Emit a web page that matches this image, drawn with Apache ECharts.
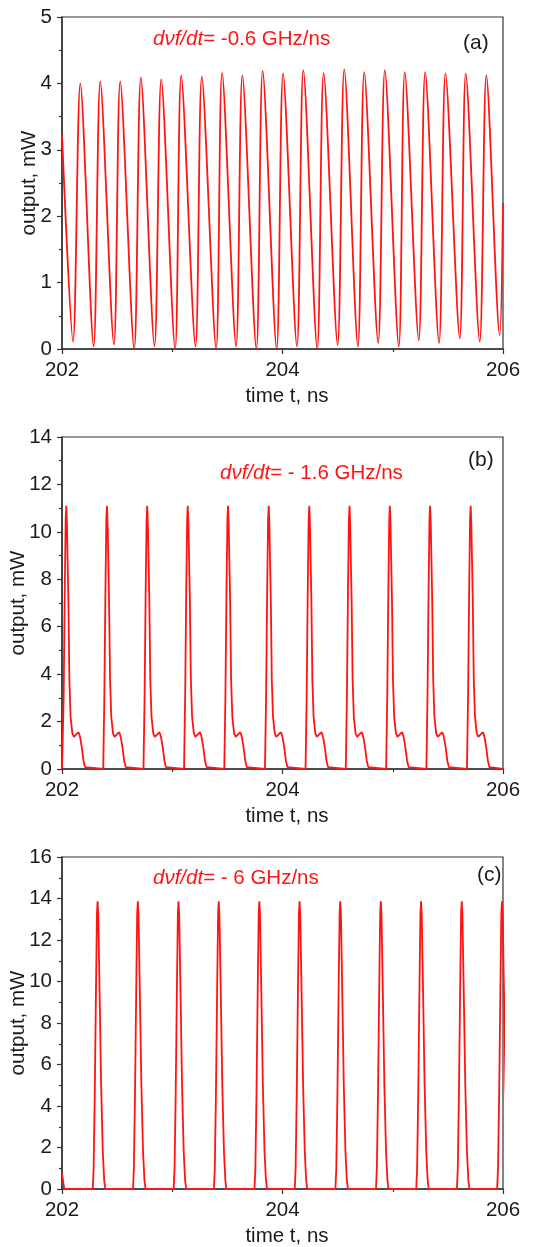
<!DOCTYPE html>
<html>
<head>
<meta charset="utf-8">
<script src="https://cdn.jsdelivr.net/npm/echarts@6/dist/echarts.min.js"></script>
<style>
html,body{margin:0;padding:0;background:#fff;}
#c{width:534px;height:1247px;}
</style>
</head>
<body>
<div id="c"></div>
<script>
// ---------- Panel (a): dνf/dt = -0.6 GHz/ns ----------
const aStartT = [202.0];
const aStartV = [3.23];
const aPeakT = [202.166, 202.347, 202.528, 202.715, 202.900, 203.081, 203.268, 203.452, 203.636, 203.820, 204.005, 204.189, 204.373, 204.560, 204.741, 204.928, 205.109, 205.294, 205.478, 205.662, 205.849];
const aPeakV = [4.00, 4.03, 4.03, 4.09, 4.06, 4.12, 4.10, 4.16, 4.12, 4.19, 4.15, 4.20, 4.16, 4.21, 4.17, 4.20, 4.17, 4.17, 4.15, 4.15, 4.12];
const aTroughT = [202.100, 202.287, 202.471, 202.655, 202.839, 203.026, 203.211, 203.398, 203.579, 203.763, 203.947, 204.131, 204.315, 204.500, 204.684, 204.868, 205.055, 205.236, 205.420, 205.608, 205.789, 205.970];
const aTroughV = [0.11, 0.04, 0.07, 0.00, 0.04, 0.00, 0.04, 0.00, 0.04, 0.00, 0.00, 0.04, 0.00, 0.06, 0.04, 0.09, 0.04, 0.13, 0.09, 0.16, 0.11, 0.21];
const aEndT = [206.0];
const aEndV = [2.2];

// ---------- Panel (b): dνf/dt = -1.6 GHz/ns ----------
const bPeakT = [202.039, 202.408, 202.773, 203.141, 203.506, 203.875, 204.243, 204.608, 204.974, 205.339, 205.707];
// pulse shape read from one pulse: time offset from peak (ns) and output (mW)
const bPulseDt = [-0.034, -0.024, -0.014, -0.006, 0, 0.006, 0.012, 0.019, 0.028, 0.039, 0.055, 0.069, 0.081, 0.092, 0.102, 0.111, 0.119, 0.127, 0.141, 0.156, 0.170, 0.182];
const bPulseV  = [0, 3.0, 7.5, 10.5, 11.1, 10.3, 8.8, 7.1, 3.75, 2.2, 1.5, 1.35, 1.38, 1.47, 1.54, 1.55, 1.45, 1.3, 0.9, 0.35, 0.08, 0];

// ---------- Panel (c): dνf/dt = -6 GHz/ns ----------
const cStartT = [202.0, 202.02];
const cStartV = [0.75, 0];
const cPeakT = [202.323, 202.688, 203.057, 203.422, 203.790, 204.155, 204.524, 204.892, 205.257, 205.626, 205.991];
const cPulseDt = [-0.044, -0.036, -0.026, -0.015, -0.006, 0, 0.006, 0.018, 0.032, 0.047, 0.060, 0.070];
const cPulseV  = [0, 1.0, 4.5, 9.5, 13.3, 13.87, 13.2, 9.5, 5.0, 1.8, 0.4, 0];

// tick settings
const xMin = 202, xMax = 206;
const yMax = [5, 14, 16];
const yStep = [1, 2, 2];
const labels = ['(a)', '(b)', '(c)'];
const rates = ['= -0.6 GHz/ns', '= - 1.6 GHz/ns', '= - 6 GHz/ns'];

// build series data
function zip(t, v) { return t.map((x, i) => [x, v[i]]); }
const dataA = zip(aStartT, aStartV)
  .concat(zip(aPeakT, aPeakV), zip(aTroughT, aTroughV))
  .sort((p, q) => p[0] - q[0])
  .concat(zip(aEndT, aEndV));
const dataB = [[xMin, 0]];
bPeakT.forEach(tp => bPulseDt.forEach((d, i) => dataB.push([+(tp + d).toFixed(4), bPulseV[i]])));
dataB.push([xMax, 0]);
const dataC = zip(cStartT, cStartV);
cPeakT.forEach(tp => cPulseDt.forEach((d, i) => dataC.push([+(tp + d).toFixed(4), cPulseV[i]])));

const FONT = "'Liberation Sans', Arial, sans-serif";
const RED = '#ff1414';
const AX = '#333';
const TXT = '#1a1a1a';
const FS = 20.5;
const tops = [17, 437, 857];
const H = 332;
const yNameGap = [22, 33, 33];

const grids = tops.map(t => ({left: 62, right: 31, top: t, height: H, show: true, containLabel: false, outerBoundsMode: 'none',
  borderColor: AX, borderWidth: 1.2, backgroundColor: 'transparent'}));
const xAxes = tops.map((t, i) => ({
  gridIndex: i, type: 'value', min: xMin, max: xMax, interval: 2,
  name: 'time t, ns', nameLocation: 'middle', nameGap: 37, nameMoveOverlap: false,
  nameTextStyle: {fontFamily: FONT, fontSize: FS, color: TXT, padding: [0, 0, 0, 9]},
  axisLine: {show: true, onZero: false, lineStyle: {color: AX, width: 1.5}},
  axisTick: {show: true, inside: false, length: 5, lineStyle: {color: AX, width: 1.2}},
  minorTick: {show: true, splitNumber: 2, length: 3, lineStyle: {color: AX, width: 1.2}},
  axisLabel: {fontFamily: FONT, fontSize: FS, color: TXT, margin: 11},
  splitLine: {show: false}, minorSplitLine: {show: false}
}));
const yAxes = tops.map((t, i) => ({
  gridIndex: i, type: 'value', min: 0, max: yMax[i], interval: yStep[i],
  name: 'output, mW', nameLocation: 'middle', nameGap: yNameGap[i], nameMoveOverlap: false,
  nameTextStyle: {fontFamily: FONT, fontSize: FS, color: TXT},
  axisLine: {show: true, onZero: false, lineStyle: {color: AX, width: 1.5}},
  axisTick: {show: true, inside: false, length: 5, lineStyle: {color: AX, width: 1.2}},
  minorTick: {show: true, splitNumber: 2, length: 3, lineStyle: {color: AX, width: 1.2}},
  axisLabel: {fontFamily: FONT, fontSize: FS, color: TXT, margin: 10},
  splitLine: {show: false}, minorSplitLine: {show: false}
}));

const lineCommon = {type: 'line', showSymbol: false, symbol: 'none', animation: false, clip: true,
  lineStyle: {color: RED, width: 1.8}};
const series = [
  Object.assign({}, lineCommon, {xAxisIndex: 0, yAxisIndex: 0, data: dataA, smooth: 0.3}),
  Object.assign({}, lineCommon, {xAxisIndex: 1, yAxisIndex: 1, data: dataB}),
  Object.assign({}, lineCommon, {xAxisIndex: 2, yAxisIndex: 2, data: dataC})
];

const annX = [153, 220, 153];
const annY = [39, 473, 878];
const labX = [463, 468, 477];
const labY = [43, 460, 875];
const graphic = [];
for (let i = 0; i < 3; i++) {
  graphic.push({type: 'text', x: annX[i], y: annY[i], z: 100, style: {
    text: '{i|dνf/dt}{n|' + rates[i] + '}',
    verticalAlign: 'middle', fill: RED, fontFamily: FONT, fontSize: FS,
    rich: {i: {fontStyle: 'italic', fill: RED, fontFamily: FONT, fontSize: FS},
           n: {fill: RED, fontFamily: FONT, fontSize: FS}}
  }});
  graphic.push({type: 'text', x: labX[i], y: labY[i], z: 100, style: {
    text: labels[i], verticalAlign: 'middle', fill: TXT, fontFamily: FONT, fontSize: 21
  }});
}

const chart = echarts.init(document.getElementById('c'), null, {renderer: 'canvas'});
chart.setOption({animation: false, grid: grids, xAxis: xAxes, yAxis: yAxes, series: series, graphic: graphic});
</script>
</body>
</html>
